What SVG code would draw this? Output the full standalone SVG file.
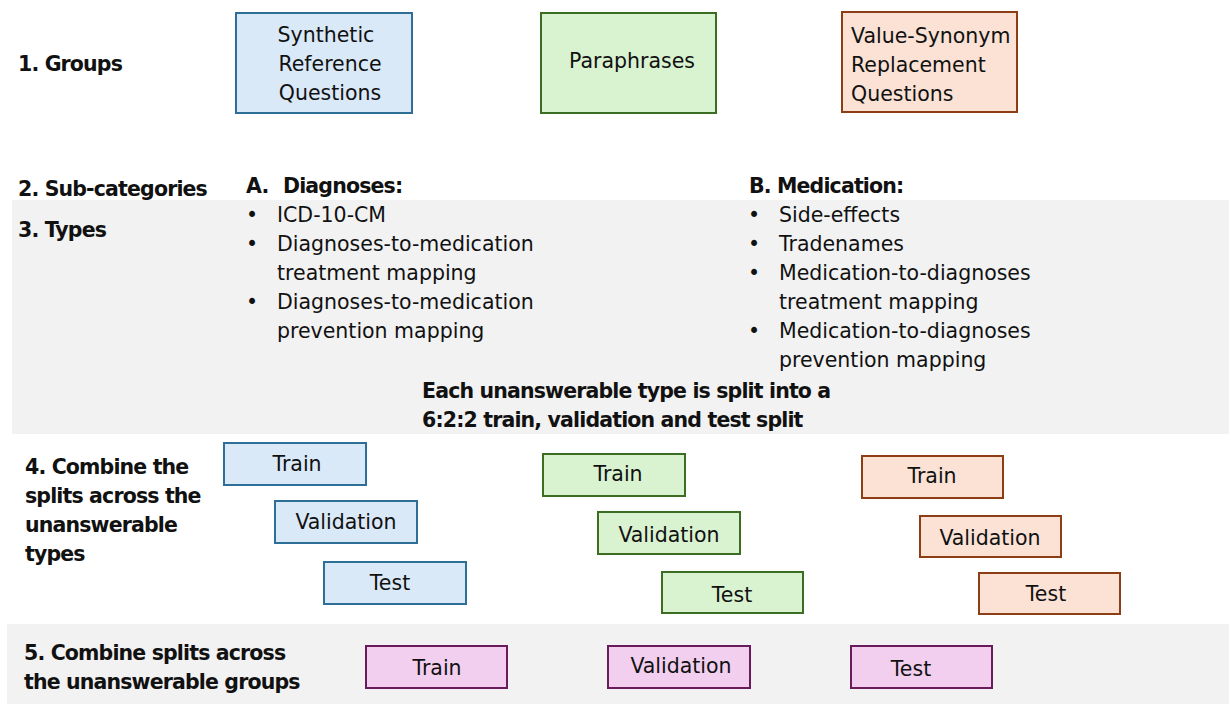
<svg xmlns="http://www.w3.org/2000/svg" width="1229" height="704" viewBox="0 0 1229 704">
<style>
text{font-family:"DejaVu Sans","Liberation Sans",sans-serif;fill:#111}
.r{font-size:20.5px}
.b{font-size:20.5px;font-weight:bold;letter-spacing:-0.85px}
.c{text-anchor:middle}
.band{fill:#f2f2f2}
.blue{fill:#dae9f8;stroke:#2e6f97;stroke-width:2}
.green{fill:#d9f2d0;stroke:#3b6e23;stroke-width:2}
.orange{fill:#fbe2d5;stroke:#8e3e14;stroke-width:2}
.pink{fill:#f2cfee;stroke:#6a1b5c;stroke-width:2}
</style>
<rect width="1229" height="704" fill="#fff"/>
<rect class="band" x="12" y="200" width="1217" height="234"/>
<rect class="band" x="7" y="624" width="1222" height="80"/>

<g id="labels">
<text class="b" x="18" y="71">1. Groups</text>
<text class="b" x="18" y="196">2. Sub-categories</text>
<text class="b" x="18" y="237">3. Types</text>
<text class="b" x="25" y="474">4. Combine the</text>
<text class="b" x="25" y="503">splits across the</text>
<text class="b" x="25" y="532">unanswerable</text>
<text class="b" x="25" y="561">types</text>
<text class="b" x="24" y="660">5. Combine splits across</text>
<text class="b" x="24" y="689">the unanswerable groups</text>
</g>

<g id="group-synthetic">
<rect class="blue" x="236" y="13" width="176" height="100"/>
<text class="r c" x="326" y="42">Synthetic</text>
<text class="r c" x="330" y="71">Reference</text>
<text class="r c" x="330" y="100">Questions</text>
</g>
<g id="group-paraphrases">
<rect class="green" x="541" y="13" width="175" height="100"/>
<text class="r c" x="632" y="68">Paraphrases</text>
</g>
<g id="group-value-synonym">
<rect class="orange" x="842" y="12" width="175" height="100"/>
<text class="r" x="851" y="43">Value-Synonym</text>
<text class="r" x="851" y="72">Replacement</text>
<text class="r" x="851" y="101">Questions</text>
</g>

<g id="subcat-diagnoses">
<text class="b" x="246" y="193">A.</text>
<text class="b" x="283" y="193">Diagnoses:</text>
<text class="r" x="246" y="222">•</text><text class="r" x="277" y="222">ICD-10-CM</text>
<text class="r" x="246" y="251">•</text><text class="r" x="277" y="251">Diagnoses-to-medication</text>
<text class="r" x="277" y="280">treatment mapping</text>
<text class="r" x="246" y="309">•</text><text class="r" x="277" y="309">Diagnoses-to-medication</text>
<text class="r" x="277" y="338">prevention mapping</text>
</g>
<g id="subcat-medication">
<text class="b" x="749" y="193">B. Medication:</text>
<text class="r" x="748" y="222">•</text><text class="r" x="779" y="222">Side-effects</text>
<text class="r" x="748" y="251">•</text><text class="r" x="779" y="251">Tradenames</text>
<text class="r" x="748" y="280">•</text><text class="r" x="779" y="280">Medication-to-diagnoses</text>
<text class="r" x="779" y="309">treatment mapping</text>
<text class="r" x="748" y="338">•</text><text class="r" x="779" y="338">Medication-to-diagnoses</text>
<text class="r" x="779" y="367">prevention mapping</text>
</g>
<g id="split-note">
<text class="b" x="422" y="398">Each unanswerable type is split into a</text>
<text class="b" x="422" y="427">6:2:2 train, validation and test split</text>
</g>

<g id="blue-train"><rect class="blue" x="224" y="443" width="142" height="42"/><text class="r c" x="297" y="471">Train</text></g>
<g id="blue-validation"><rect class="blue" x="275" y="501" width="142" height="42"/><text class="r c" x="346" y="529">Validation</text></g>
<g id="blue-test"><rect class="blue" x="324" y="562" width="142" height="42"/><text class="r c" x="390" y="590">Test</text></g>

<g id="green-train"><rect class="green" x="543" y="454" width="142" height="42"/><text class="r c" x="618" y="481">Train</text></g>
<g id="green-validation"><rect class="green" x="598" y="512" width="142" height="42"/><text class="r c" x="669" y="542">Validation</text></g>
<g id="green-test"><rect class="green" x="662" y="572" width="141" height="41"/><text class="r c" x="732" y="602">Test</text></g>

<g id="orange-train"><rect class="orange" x="862" y="456" width="141" height="42"/><text class="r c" x="932" y="483">Train</text></g>
<g id="orange-validation"><rect class="orange" x="920" y="516" width="141" height="41"/><text class="r c" x="990" y="545">Validation</text></g>
<g id="orange-test"><rect class="orange" x="979" y="573" width="141" height="41"/><text class="r c" x="1046" y="601">Test</text></g>

<g id="final-train"><rect class="pink" x="366" y="646" width="141" height="42"/><text class="r c" x="437" y="675">Train</text></g>
<g id="final-validation"><rect class="pink" x="608" y="646" width="142" height="42"/><text class="r c" x="681" y="673">Validation</text></g>
<g id="final-test"><rect class="pink" x="851" y="646" width="141" height="42"/><text class="r c" x="911" y="676">Test</text></g>

<g id="connectors"></g>
</svg>
